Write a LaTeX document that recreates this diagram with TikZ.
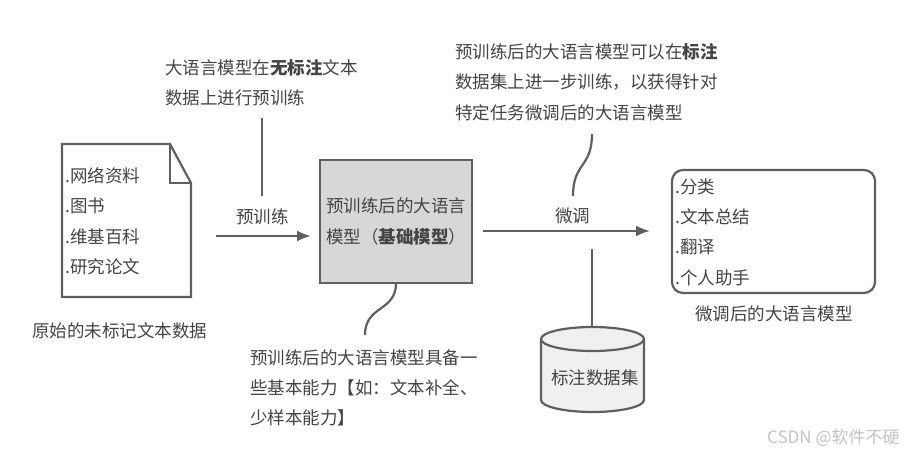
\documentclass[tikz,border=0pt]{standalone}
\usepackage{fontspec}
\setmainfont{Noto Sans CJK SC}
\usepackage{xcolor}
\usetikzlibrary{arrows.meta,positioning,calc,shapes.geometric}
\definecolor{LineGrey}{HTML}{5F5F5F}
\definecolor{TextGrey}{HTML}{444444}
\definecolor{BoxGrey}{HTML}{D6D8D7}
\definecolor{DrumGrey}{HTML}{EFF1F0}
\definecolor{MarkGrey}{HTML}{C4C4C4}
\tikzset{
  shapeline/.style={draw=LineGrey,line width=2.2pt},
  linkline/.style={draw=LineGrey,line width=2.2pt},
  linkarrow/.style={linkline,-{Latex[length=14pt,width=11pt]}},
  txt/.style={font=\fontsize{17.5}{17.5}\selectfont,text=TextGrey,inner sep=0pt,anchor=west},
}
\begin{document}
\begin{tikzpicture}[x=1pt,y=-1pt]
  \useasboundingbox (0,0) rectangle (907,453);
  % source document
  \draw[shapeline,fill=white,line join=miter] (62,144)--(170,144)--(191,183)--(191,297)--(62,297)--cycle;
  \draw[shapeline] (170,144)--(170,183)--(191,183);
  \node[txt] (webT) at (65,176) {.网络资料};
  \node[txt] (bookT) at (65,206) {.图书};
  \node[txt] (wikiT) at (65,237) {.维基百科};
  \node[txt] (paperT) at (65,267) {.研究论文};
  \node[txt] (rawT) at (32,331) {原始的未标记文本数据};
  % base model
  \node[shapeline,fill=BoxGrey,minimum width=152pt,minimum height=123pt,inner sep=0pt] (baseM) at (396,221.5) {};
  \node[txt] (baseA) at (326,206) {预训练后的大语言};
  \node[txt] (baseB) at (326,237) {模型（\textbf{基础模型}）};
  % tuned model
  \node[shapeline,rounded corners=11pt,minimum width=203pt,minimum height=123pt,inner sep=0pt] (tunedM) at (773.5,231.5) {};
  \node[txt] (clsT) at (675,187) {.分类};
  \node[txt] (sumT) at (675,217) {.文本总结};
  \node[txt] (transT) at (675,247) {.翻译};
  \node[txt] (asstT) at (675,278) {.个人助手};
  \node[txt] (tunedT) at (695,314) {微调后的大语言模型};
  % labelled data
  \draw[shapeline,fill=DrumGrey] (541,339)--(541,400) arc[start angle=180,end angle=0,x radius=51.5pt,y radius=-12pt]--(644,339);
  \draw[shapeline,fill=DrumGrey] (592.5,339) ellipse[x radius=51.5pt,y radius=12pt];
  \coordinate (drumTop) at (592,327);
  \node[txt] (drumT) at (551,378) {标注数据集};
  % notes
  \node[txt] (noteA) at (165,68) {大语言模型在\textbf{无标注}文本};
  \node[txt] (noteB) at (165,98) {数据上进行预训练};
  \node[txt] (noteC) at (455,52) {预训练后的大语言模型可以在\textbf{标注}};
  \node[txt] (noteD) at (455,82) {数据集上进一步训练，以获得针对};
  \node[txt] (noteE) at (455,113) {特定任务微调后的大语言模型};
  \node[txt] (noteF) at (250,358) {预训练后的大语言模型具备一};
  \node[txt] (noteG) at (250,388) {些基本能力【如：文本补全、};
  \node[txt] (noteH) at (250,418) {少样本能力】};
  % connectors
  \coordinate (trainS) at (216,236);
  \coordinate (trainE) at (311,236);
  \coordinate (tuneS) at (483,231);
  \coordinate (tuneE) at (650,231);
  \coordinate (leadAS) at (262,118);
  \coordinate (leadAE) at (262,196);
  \coordinate (leadBS) at (592,134);
  \coordinate (leadBE) at (573,196);
  \coordinate (leadCS) at (396,283);
  \coordinate (leadCE) at (365,335);
  \coordinate (leadDS) at (592,249);
  \draw[linkarrow] (trainS)--(trainE);
  \draw[linkarrow] (tuneS)--(tuneE);
  \draw[linkline] (leadAS)--(leadAE);
  \draw[linkline] (leadDS)--(drumTop);
  \draw[linkline] (leadBS) .. controls (592,168) and (573,162) .. (leadBE);
  \draw[linkline] (leadCS) .. controls (396,312) and (365,305) .. (leadCE);
  \node[txt] (trainT) at (236,217) {预训练};
  \node[txt] (tuneT) at (555,216) {微调};
  \node[font=\fontsize{17}{17}\selectfont,text=MarkGrey,inner sep=0pt,anchor=west] (markT) at (767,438) {CSDN @软件不硬};
\end{tikzpicture}
\end{document}
